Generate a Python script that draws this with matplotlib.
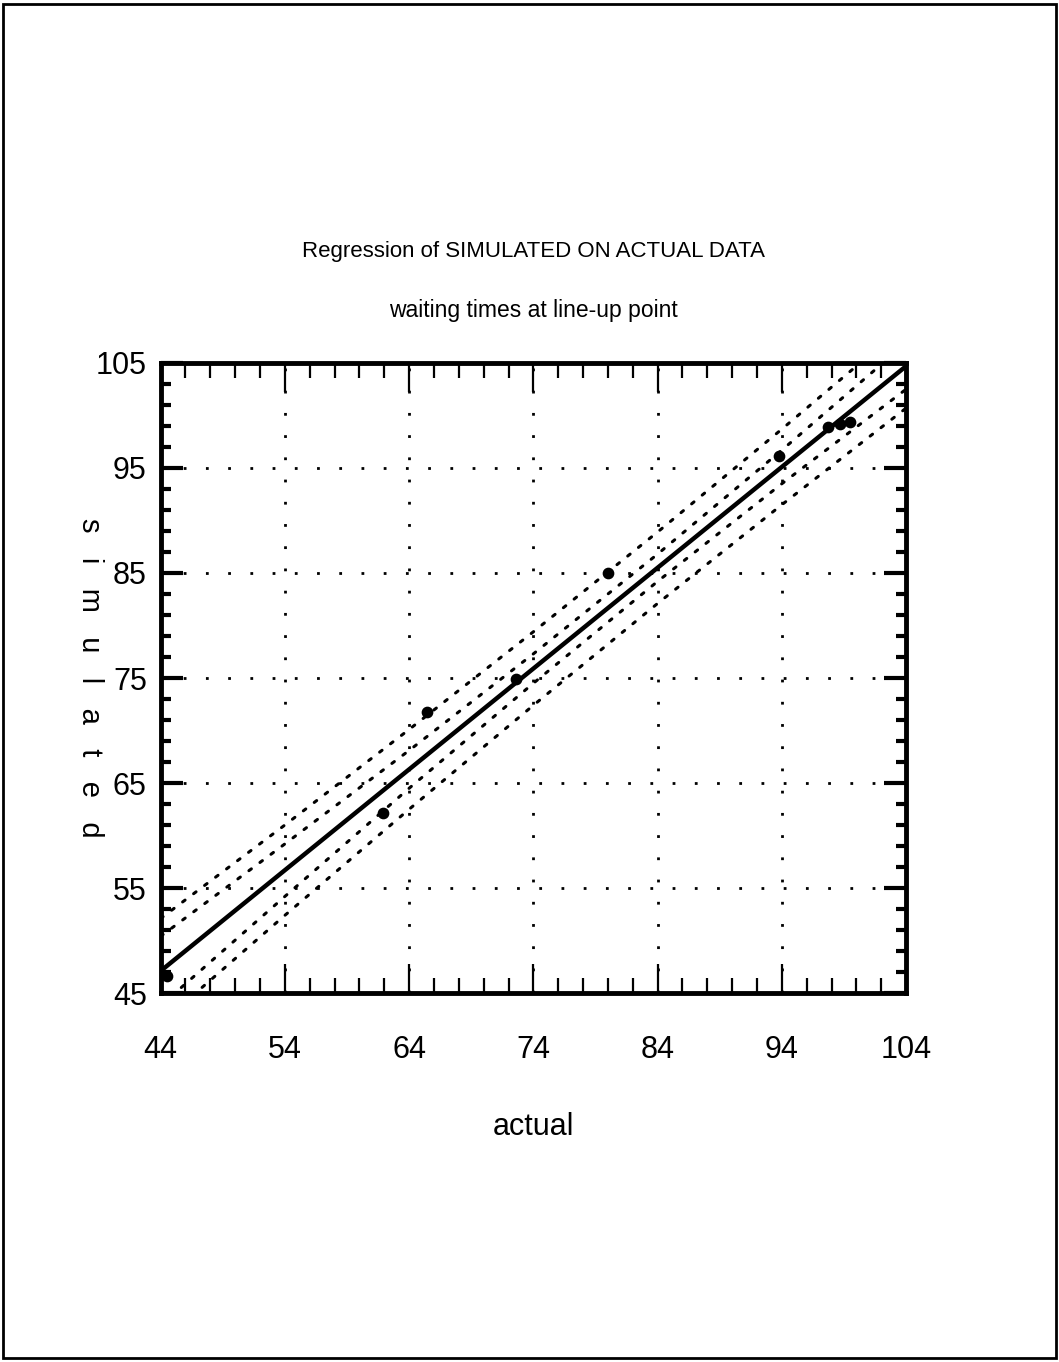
import numpy as np
from matplotlib import pyplot as plt
from matplotlib.patches import Rectangle
from matplotlib.ticker import FixedLocator

plt.rcParams['font.family'] = ['Liberation Sans Narrow', 'Liberation Sans', 'DejaVu Sans']

# observed points (actual, simulated)
actual = [44.5, 61.9, 65.4, 72.6, 80.0, 93.8, 97.7, 98.7, 99.5]
simulated = [46.6, 62.1, 71.8, 74.9, 85.0, 96.1, 98.9, 99.2, 99.4]

# regression line end points
reg_x = [44.0, 104.0]
reg_y = [47.1, 104.7]

# confidence bands read at the grid columns
band_x = [44, 54, 64, 74, 84, 94, 104]
band_mid = [47.1, 56.7, 66.3, 75.9, 85.5, 95.1, 104.7]
inner_half = [3.3, 2.5, 1.8, 1.4, 1.3, 1.6, 2.2]
outer_half = [5.0, 4.3, 3.8, 3.5, 3.4, 3.6, 4.0]

x_ticks = [44, 54, 64, 74, 84, 94, 104]
y_ticks = [45, 55, 65, 75, 85, 95, 105]

title1 = 'Regression of SIMULATED ON ACTUAL DATA'
title2 = 'waiting times at line-up point'

fig = plt.figure(figsize=(10.59, 13.62), dpi=100)
ax = fig.add_axes([0.1517, 0.2709, 0.7039, 0.4626])

mid = np.array(band_mid)
for half in (inner_half, outer_half):
    h = np.array(half)
    for sign in (1, -1):
        ax.plot(band_x, mid + sign * h, color='black', lw=2.2,
                linestyle=(0, (1, 3.5)), dash_capstyle='round')

ax.plot(reg_x, reg_y, color='black', lw=3.2)
ax.scatter(actual, simulated, s=55, color='black', zorder=5)

ax.set_xlim(44, 104)
ax.set_ylim(45, 105)
ax.xaxis.set_major_locator(FixedLocator(x_ticks))
ax.xaxis.set_minor_locator(FixedLocator(np.arange(44, 105, 2)))
ax.yaxis.set_major_locator(FixedLocator(y_ticks))
ax.yaxis.set_minor_locator(FixedLocator(np.arange(45, 106, 2)))

ax.grid(True, which='major', color='black', lw=2, linestyle=(0, (1, 7)))
for s in ax.spines.values():
    s.set_linewidth(3.5)

ax.tick_params(axis='x', which='major', direction='in', top=True, bottom=True,
               length=21, width=1.6, labelsize=22, pad=30)
ax.tick_params(axis='x', which='minor', direction='in', top=True, bottom=True,
               length=11, width=1.6)
ax.tick_params(axis='y', which='major', direction='in', left=True, right=True,
               length=16, width=3, labelsize=22, pad=10)
ax.tick_params(axis='y', which='minor', direction='in', left=True, right=True,
               length=7, width=3)

ax.set_xlabel('actual', fontsize=22, labelpad=34)

fig.text(0.5035, 1 - 252 / 1362, title1, ha='center', va='center', fontsize=16)
fig.text(0.5035, 1 - 311 / 1362, title2, ha='center', va='center', fontsize=16.5)
fig.text(90 / 1059, 1 - 678 / 1362, 's   i   m   u   l   a   t   e   d', rotation=-90,
         ha='center', va='center', fontsize=21)

fig.patches.append(Rectangle((0.003, 0.003), 0.994, 0.994, transform=fig.transFigure,
                             fill=False, lw=2, edgecolor='black'))

fig.savefig('out.png', dpi=100)
